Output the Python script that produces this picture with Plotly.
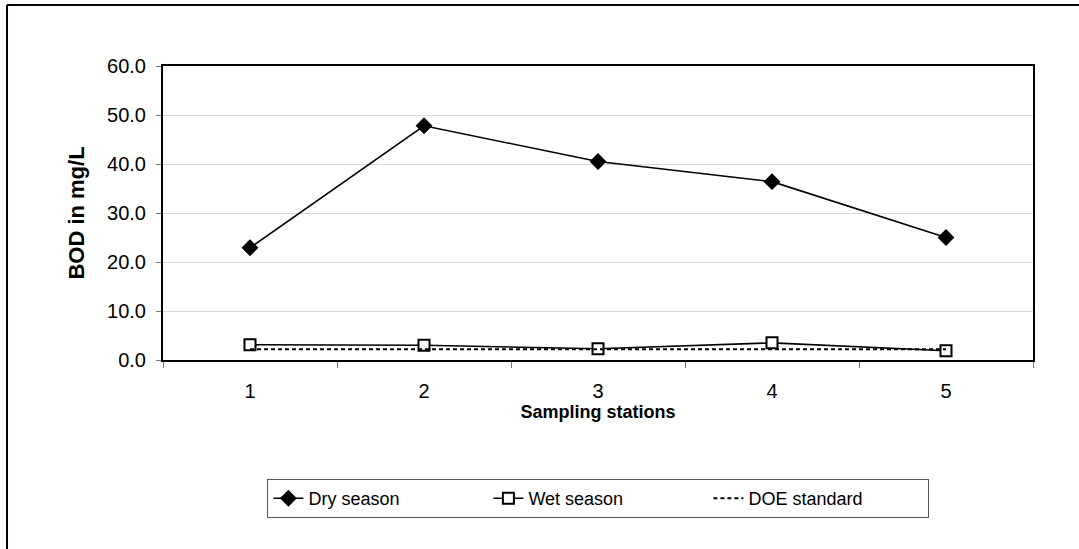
import plotly.graph_objects as go

# BOD measurements per sampling station
stations = [1, 2, 3, 4, 5]
dry_season = [22.9, 47.8, 40.5, 36.4, 25.0]
wet_season = [3.1, 3.0, 2.3, 3.5, 1.9]
doe_standard = [2.2, 2.2, 2.2, 2.2, 2.2]
y_ticks = [0, 10, 20, 30, 40, 50, 60]

FONT = "Arial, Liberation Sans, sans-serif"

fig = go.Figure()

fig.add_trace(go.Scatter(
    x=stations, y=dry_season, name="Dry season", mode="lines+markers",
    line=dict(color="black", width=1.6),
    marker=dict(symbol="diamond", size=13, color="black"),
))
fig.add_trace(go.Scatter(
    x=stations, y=wet_season, name="Wet season", mode="lines+markers",
    line=dict(color="black", width=1.6),
    marker=dict(symbol="square", size=11, color="white",
                line=dict(color="black", width=2)),
))
fig.add_trace(go.Scatter(
    x=stations, y=doe_standard, name="DOE standard", mode="lines",
    line=dict(color="black", width=2, dash="4px,3px"),
))

fig.update_layout(
    width=1079, height=549,
    margin=dict(l=163, r=46, t=66, b=189),
    paper_bgcolor="white", plot_bgcolor="white",
    font=dict(family=FONT, size=18, color="black"),
    showlegend=True,
    legend=dict(
        orientation="h", x=0.12, y=-0.405, xanchor="left", yanchor="top",
        bordercolor="#555555", borderwidth=1, bgcolor="white",
        font=dict(family=FONT, size=18, color="black"),
        entrywidth=175, entrywidthmode="pixels",
    ),
    shapes=[
        # outer chart frame (left and top edges visible)
        dict(type="line", xref="paper", yref="paper",
             x0=-0.1793, x1=-0.1793, y0=-1.0, y1=1.2075,
             line=dict(color="black", width=2)),
        dict(type="line", xref="paper", yref="paper",
             x0=-0.1793, x1=1.2, y0=1.2075, y1=1.2075,
             line=dict(color="black", width=2)),
    ],
)

fig.update_xaxes(
    range=[0.5, 5.5], tickvals=stations, ticktext=[str(s) for s in stations],
    ticks="", showgrid=False, zeroline=False,
    showline=True, linecolor="black", linewidth=2, mirror=True,
    tickfont=dict(size=20), ticklabelstandoff=12,
    minor=dict(tickvals=[0.5, 1.5, 2.5, 3.5, 4.5, 5.5], ticks="outside",
               ticklen=6, tickcolor="#777777", tickwidth=1, showgrid=False),
    title=dict(text="<b>Sampling stations</b>", font=dict(size=18), standoff=0),
)
fig.update_yaxes(
    range=[0, 60], tickvals=y_ticks, tickformat=".1f",
    ticks="outside", ticklen=5, tickcolor="#777777", tickwidth=1,
    showgrid=True, gridcolor="#d9d9d9", gridwidth=1, zeroline=False,
    showline=True, linecolor="black", linewidth=2, mirror=True,
    tickfont=dict(size=20), ticklabelstandoff=6,
    title=dict(text="<b>BOD in mg/L</b>", font=dict(size=22), standoff=16),
)

fig.write_html("out.html")
